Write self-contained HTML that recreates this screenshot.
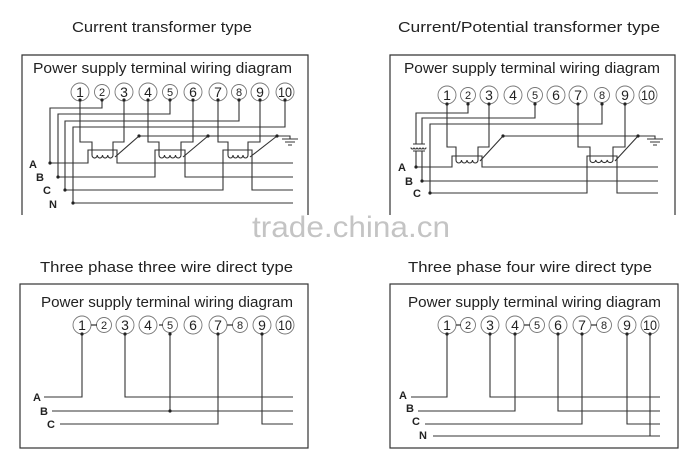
<!DOCTYPE html>
<html><head><meta charset="utf-8"><style>
html,body{margin:0;padding:0;background:#fff;}
svg{display:block;}
text{font-family:"Liberation Sans",sans-serif;fill:#222;}
</style></head><body>
<svg width="700" height="476" viewBox="0 0 700 476" xmlns="http://www.w3.org/2000/svg">
<rect width="700" height="476" fill="#fff"/>
<!-- titles -->
<text x="72" y="32" font-size="15" textLength="180" lengthAdjust="spacingAndGlyphs">Current transformer type</text>
<text x="398" y="32" font-size="15" textLength="262" lengthAdjust="spacingAndGlyphs">Current/Potential transformer type</text>
<text x="40" y="272" font-size="15" textLength="253" lengthAdjust="spacingAndGlyphs">Three phase three wire direct type</text>
<text x="408" y="272" font-size="15" textLength="244" lengthAdjust="spacingAndGlyphs">Three phase four wire direct type</text>
<text x="252" y="237" font-size="30" fill="#bdbdbd" style="fill:#c4c4c4" textLength="198" lengthAdjust="spacingAndGlyphs">trade.china.cn</text>

<g fill="none" stroke="#333" stroke-width="1.2">
<!-- boxes -->
<path d="M22 215 V55 H308 V215"/>
<path d="M390 215 V55 H675 V215"/>
<rect x="20" y="284" width="288" height="164"/>
<rect x="390" y="284" width="288" height="164"/>
</g>
<g font-size="14.5">
<text x="33" y="73" textLength="259" lengthAdjust="spacingAndGlyphs">Power supply terminal wiring diagram</text>
<text x="404" y="73" textLength="256" lengthAdjust="spacingAndGlyphs">Power supply terminal wiring diagram</text>
<text x="41" y="307" textLength="252" lengthAdjust="spacingAndGlyphs">Power supply terminal wiring diagram</text>
<text x="408" y="307" textLength="253" lengthAdjust="spacingAndGlyphs">Power supply terminal wiring diagram</text>
</g>

<!-- terminals -->
<g fill="#fff" stroke="#777" stroke-width="0.9">
<circle cx="80" cy="92" r="9"/><circle cx="102" cy="92" r="7.5"/><circle cx="124" cy="92" r="9"/><circle cx="148" cy="92" r="9"/><circle cx="170" cy="92" r="7.5"/><circle cx="193" cy="92" r="9"/><circle cx="218" cy="92" r="9"/><circle cx="239" cy="92" r="7.5"/><circle cx="260" cy="92" r="9"/><circle cx="285" cy="92" r="9"/>
<circle cx="447" cy="95" r="9"/><circle cx="468" cy="95" r="7.5"/><circle cx="489" cy="95" r="9"/><circle cx="513" cy="95" r="9"/><circle cx="535" cy="95" r="7.5"/><circle cx="556" cy="95" r="9"/><circle cx="578" cy="95" r="9"/><circle cx="602" cy="95" r="7.5"/><circle cx="625" cy="95" r="9"/><circle cx="648" cy="95" r="9"/>
<circle cx="82" cy="325" r="9"/><circle cx="104" cy="325" r="7.5"/><circle cx="125" cy="325" r="9"/><circle cx="148" cy="325" r="9"/><circle cx="170" cy="325" r="7.5"/><circle cx="193" cy="325" r="9"/><circle cx="218" cy="325" r="9"/><circle cx="240" cy="325" r="7.5"/><circle cx="262" cy="325" r="9"/><circle cx="285" cy="325" r="9"/>
<circle cx="447" cy="325" r="9"/><circle cx="468" cy="325" r="7.5"/><circle cx="490" cy="325" r="9"/><circle cx="515" cy="325" r="9"/><circle cx="537" cy="325" r="7.5"/><circle cx="558" cy="325" r="9"/><circle cx="582" cy="325" r="9"/><circle cx="604" cy="325" r="7.5"/><circle cx="627" cy="325" r="9"/><circle cx="650" cy="325" r="9"/>
</g>
<g stroke="#333" stroke-width="1.2">
<path d="M91 325H97M159 325H163M227 325H233M456 325H461M524 325H530M591 325H597"/>
</g>
<g font-size="14" text-anchor="middle">
<text x="80" y="97">1</text><text x="102" y="96" font-size="11">2</text><text x="124" y="97">3</text><text x="148" y="97">4</text><text x="170" y="96" font-size="11">5</text><text x="193" y="97">6</text><text x="218" y="97">7</text><text x="239" y="96" font-size="11">8</text><text x="260" y="97">9</text><text x="285" y="97" textLength="14" lengthAdjust="spacingAndGlyphs">10</text>
<text x="447" y="100">1</text><text x="468" y="99" font-size="11">2</text><text x="489" y="100">3</text><text x="513" y="100">4</text><text x="535" y="99" font-size="11">5</text><text x="556" y="100">6</text><text x="578" y="100">7</text><text x="602" y="99" font-size="11">8</text><text x="625" y="100">9</text><text x="648" y="100" textLength="14" lengthAdjust="spacingAndGlyphs">10</text>
<text x="82" y="330">1</text><text x="104" y="329" font-size="11">2</text><text x="125" y="330">3</text><text x="148" y="330">4</text><text x="170" y="329" font-size="11">5</text><text x="193" y="330">6</text><text x="218" y="330">7</text><text x="240" y="329" font-size="11">8</text><text x="262" y="330">9</text><text x="285" y="330" textLength="14" lengthAdjust="spacingAndGlyphs">10</text>
<text x="447" y="330">1</text><text x="468" y="329" font-size="11">2</text><text x="490" y="330">3</text><text x="515" y="330">4</text><text x="537" y="329" font-size="11">5</text><text x="558" y="330">6</text><text x="582" y="330">7</text><text x="604" y="329" font-size="11">8</text><text x="627" y="330">9</text><text x="650" y="330" textLength="14" lengthAdjust="spacingAndGlyphs">10</text>
</g>

<!-- phase labels -->
<g font-size="11" font-weight="bold">
<text x="29" y="168">A</text><text x="36" y="181">B</text><text x="43" y="194">C</text><text x="49" y="208">N</text>
<text x="398" y="171">A</text><text x="405" y="185">B</text><text x="413" y="197">C</text>
<text x="33" y="401">A</text><text x="40" y="415">B</text><text x="47" y="428">C</text>
<text x="399" y="399">A</text><text x="406" y="412">B</text><text x="412" y="425">C</text><text x="419" y="439">N</text>
</g>

<g fill="none" stroke="#333" stroke-width="1.1">
<!-- Panel 1 -->
<path d="M102 100V108H50V163M170 100V114H58V177M239 100V121H65V190M285 100V127H73V203M73 203H293"/>
<path d="M50 163H88V150H117V163H293"/>
<path d="M58 177H155V150H185V177H293"/>
<path d="M65 190H223V150H252V190H293"/>
<path d="M80 100V142H92V155a2.6 3 0 0 0 5.25 0a2.6 3 0 0 0 5.25 0a2.6 3 0 0 0 5.25 0a2.6 3 0 0 0 5.25 0V142H124V100"/>
<path d="M148 100V142H159V155a2.75 3 0 0 0 5.5 0a2.75 3 0 0 0 5.5 0a2.75 3 0 0 0 5.5 0a2.75 3 0 0 0 5.5 0V142H193V100"/>
<path d="M218 100V142H228V155a2.5 3 0 0 0 5 0a2.5 3 0 0 0 5 0a2.5 3 0 0 0 5 0a2.5 3 0 0 0 5 0V142H260V100"/>
<path d="M115 157L139 136M183 157L208 136M250 157L277 136M139 136H290V139M282 139H298M285 142H295M288 145H292"/>
<!-- Panel 2 -->
<path d="M468 104V113H416V144M535 104V118H422V144M416 151V167M422 151V181M602 104V124H430V193"/>
<path d="M413 144H425M413 151H425M411 147.5a1.5 1.5 0 0 0 3 0a1.5 1.5 0 0 0 3 0a1.5 1.5 0 0 0 3 0a1.5 1.5 0 0 0 3 0a1.5 1.5 0 0 0 3 0"/>
<path d="M416 167H452V156H482V167H658M422 181H658M430 193H587V156H617V193H658"/>
<path d="M447 104V147H456V160a2.75 3 0 0 0 5.5 0a2.75 3 0 0 0 5.5 0a2.75 3 0 0 0 5.5 0a2.75 3 0 0 0 5.5 0V147H489V104"/>
<path d="M578 104V147H590V160a2.9 3 0 0 0 5.75 0a2.9 3 0 0 0 5.75 0a2.9 3 0 0 0 5.75 0a2.9 3 0 0 0 5.75 0V147H625V104"/>
<path d="M480 161L503 136M615 161L638 136M503 136H655V139M647 139H663M650 142H660M653 145H657"/>
<!-- Panel 3 -->
<path d="M82 334V397H44M125 334V397H293M52 411H293M170 334V411M60 424H218V334M262 334V424H293"/>
<!-- Panel 4 -->
<path d="M447 334V397H411M490 334V397H660M418 411H515V334M558 334V411H660M425 424H582V334M627 334V424H660M433 436H660M650 334V436"/>
</g>

<g fill="#222">
<circle cx="80" cy="100" r="1.6"/><circle cx="102" cy="100" r="1.6"/><circle cx="124" cy="100" r="1.6"/><circle cx="148" cy="100" r="1.6"/><circle cx="170" cy="100" r="1.6"/><circle cx="193" cy="100" r="1.6"/><circle cx="218" cy="100" r="1.6"/><circle cx="239" cy="100" r="1.6"/><circle cx="260" cy="100" r="1.6"/><circle cx="285" cy="100" r="1.6"/>
<circle cx="50" cy="163" r="1.6"/><circle cx="58" cy="177" r="1.6"/><circle cx="65" cy="190" r="1.6"/><circle cx="73" cy="203" r="1.6"/><circle cx="139" cy="136" r="1.6"/><circle cx="208" cy="136" r="1.6"/><circle cx="277" cy="136" r="1.6"/>
<circle cx="447" cy="104" r="1.6"/><circle cx="468" cy="104" r="1.6"/><circle cx="489" cy="104" r="1.6"/><circle cx="535" cy="104" r="1.6"/><circle cx="578" cy="104" r="1.6"/><circle cx="602" cy="104" r="1.6"/><circle cx="625" cy="104" r="1.6"/>
<circle cx="416" cy="167" r="1.6"/><circle cx="422" cy="181" r="1.6"/><circle cx="430" cy="193" r="1.6"/><circle cx="503" cy="136" r="1.6"/><circle cx="638" cy="136" r="1.6"/>
<circle cx="82" cy="334" r="1.6"/><circle cx="125" cy="334" r="1.6"/><circle cx="170" cy="334" r="1.6"/><circle cx="218" cy="334" r="1.6"/><circle cx="262" cy="334" r="1.6"/><circle cx="170" cy="411" r="1.6"/>
<circle cx="447" cy="334" r="1.6"/><circle cx="490" cy="334" r="1.6"/><circle cx="515" cy="334" r="1.6"/><circle cx="558" cy="334" r="1.6"/><circle cx="582" cy="334" r="1.6"/><circle cx="627" cy="334" r="1.6"/><circle cx="650" cy="334" r="1.6"/>
</g>
</svg>
</body></html>
